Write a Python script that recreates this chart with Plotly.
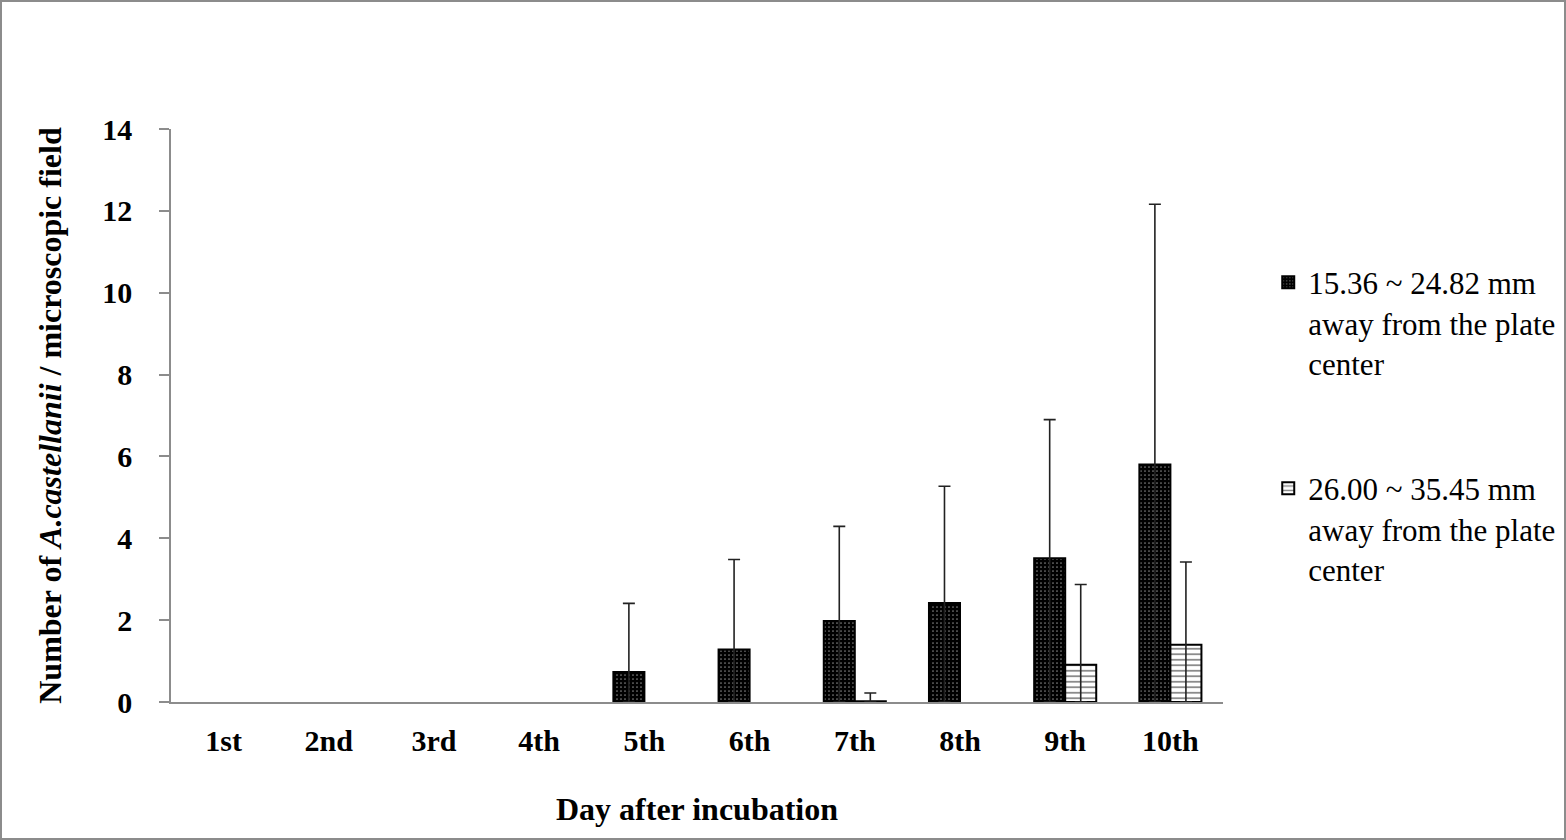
import plotly.graph_objects as go

days = ["1st", "2nd", "3rd", "4th", "5th", "6th", "7th", "8th", "9th", "10th"]
near_vals = [0, 0, 0, 0, 0.73, 1.28, 1.98, 2.42, 3.51, 5.80]
near_err = [None, None, None, None, 1.68, 2.20, 2.31, 2.85, 3.39, 6.36]
far_vals = [0, 0, 0, 0, 0, 0, 0.02, 0, 0.91, 1.40]
far_err = [None, None, None, None, None, None, 0.20, None, 1.96, 2.02]
y_ticks = [0, 2, 4, 6, 8, 10, 12, 14]
near_name = "15.36 ~ 24.82 mm<br>away from the plate<br>center"
far_name = "26.00 ~ 35.45 mm<br>away from the plate<br>center"

FONT = "Liberation Serif"
W, H = 1566, 840
L, R, T, B = 171, 343, 129, 138
pw, ph = W - L - R, H - T - B


def minus(vals, errs):
    return [v if e is not None else None for v, e in zip(vals, errs)]


def shown(vals):
    # zero-height bars are not drawn in the reference
    return [v if v > 0 else None for v in vals]


fig = go.Figure()
fig.add_trace(go.Bar(
    x=days, y=shown(near_vals), name=near_name, legendgroup="a",
    marker=dict(color="black", line=dict(color="black", width=2),
                pattern=dict(shape=".", fgcolor="white", bgcolor="black",
                             size=4, solidity=0.15)),
    error_y=dict(type="data", symmetric=False, array=near_err,
                 arrayminus=minus(near_vals, near_err),
                 color="#222222", thickness=1.6, width=6),
))
fig.add_trace(go.Bar(
    x=days, y=shown(far_vals), name=far_name, legendgroup="b",
    marker=dict(color="white", line=dict(color="black", width=2),
                pattern=dict(shape="-", fgcolor="black", bgcolor="white",
                             size=5.5, solidity=0.3)),
    error_y=dict(type="data", symmetric=False, array=far_err,
                 arrayminus=minus(far_vals, far_err),
                 color="#222222", thickness=1.6, width=6),
))

fig.update_layout(
    width=W, height=H,
    margin=dict(l=L, r=R, t=T, b=B, autoexpand=False),
    paper_bgcolor="white", plot_bgcolor="white",
    font=dict(family=FONT, size=30, color="black"),
    barmode="group", bargap=0.41, bargroupgap=0,
    showlegend=True,
    legend=dict(x=1.043, y=0.779, xanchor="left", yanchor="top",
                font=dict(family=FONT, size=31, color="black"),
                traceorder="grouped", tracegroupgap=82, valign="top",
                itemwidth=30, bgcolor="rgba(0,0,0,0)"),
    xaxis=dict(
        showline=True, linecolor="#8c8c8c", linewidth=1.5,
        ticks="", showgrid=False, zeroline=False,
        tickfont=dict(family=FONT, size=30, weight="bold"),
        ticklabelstandoff=11,
        title=dict(text="Day after incubation",
                   font=dict(family=FONT, size=32, weight="bold"),
                   standoff=42),
    ),
    yaxis=dict(
        range=[0, 14], tickvals=y_ticks, showline=True, linecolor="#8c8c8c",
        linewidth=1.5, ticks="outside", ticklen=10, tickcolor="#8c8c8c",
        tickwidth=1.5, showgrid=False, zeroline=False,
        tickfont=dict(family=FONT, size=30, weight="bold"),
        ticklabelstandoff=21,
        title=dict(text="Number of <i>A.castellanii</i> / microscopic field",
                   font=dict(family=FONT, size=32, weight="bold"),
                   standoff=31),
    ),
    shapes=[dict(type="rect", xref="paper", yref="paper",
                 x0=(1 - L) / pw, x1=(W - L - 1) / pw,
                 y0=(1 - B) / ph, y1=(H - B - 1) / ph,
                 line=dict(color="#8c8c8c", width=2), layer="below")],
)

fig.write_html("out.html", config={"displayModeBar": False},
               post_script="document.body.style.margin='0';")
